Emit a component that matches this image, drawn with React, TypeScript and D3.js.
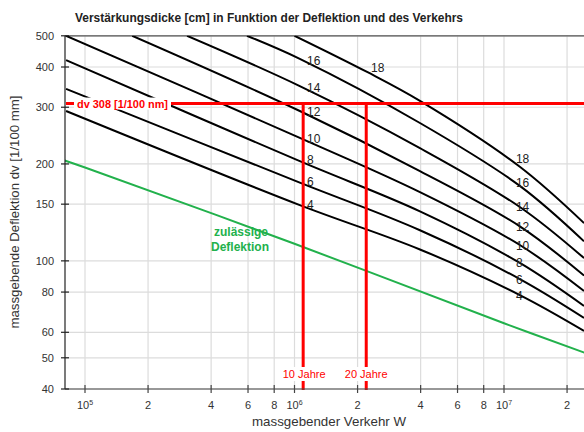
import React from "react";
import * as d3 from "d3";

// ---------- data ----------
const W_TICKS = [1e5, 2e5, 4e5, 6e5, 8e5, 1e6, 2e6, 4e6, 6e6, 8e6, 1e7, 2e7];
const W_TICK_BASE = ["10", "2", "4", "6", "8", "10", "2", "4", "6", "8", "10", "2"];
const W_TICK_EXP = ["5", "", "", "", "", "6", "", "", "", "", "7", ""];
const DV_TICKS = [40, 50, 60, 80, 100, 150, 200, 300, 400, 500];

const THICKNESS = [4, 6, 8, 10, 12, 14, 16, 18];
const LINE_4 = [[8.12e4, 292], [1.06e6, 149], [3.97e6, 108.5], [1.19e7, 78.3], [2.41e7, 60.6]];
const LINE_6 = [[8.12e4, 342], [1.06e6, 175], [3.97e6, 124.5], [1.19e7, 87.8], [2.41e7, 66.5]];
const LINE_8 = [[8.12e4, 420], [1.06e6, 204], [3.97e6, 142.5], [1.19e7, 98.5], [2.41e7, 72.4]];
const LINE_10 = [[8.12e4, 500], [1.06e6, 241], [3.97e6, 163.5], [1.19e7, 112], [2.41e7, 80.6]];
const LINE_12 = [[1.68e5, 500], [1.06e6, 292], [3.97e6, 190], [1.19e7, 128], [2.41e7, 90]];
const LINE_14 = [[3.07e5, 500], [1.06e6, 349], [3.97e6, 224], [1.19e7, 147], [2.41e7, 102]];
const LINE_16 = [[5.93e5, 500], [1.06e6, 424], [3.97e6, 268], [1.19e7, 171], [2.41e7, 115]];
const LINE_18 = [[1.0e6, 500], [2.22e6, 386], [3.97e6, 314], [1.19e7, 196], [2.41e7, 131]];
const LINES = [LINE_4, LINE_6, LINE_8, LINE_10, LINE_12, LINE_14, LINE_16, LINE_18];

const ALLOWED = [[8.0e4, 205], [1e5, 195], [1e6, 113], [1e7, 64], [2.5e7, 51.5]];

// labels on the curves
const LEFT_LABEL_W = 1.148e6;
const LEFT_LABELS = ["4", "6", "8", "10", "12", "14", "16"];
const LEFT_LABEL_DV = [150, 177, 207, 240, 290, 345, 420];
const TOP_LABEL = "18";
const TOP_LABEL_W = 2.32e6;
const TOP_LABEL_DV = 400;
const RIGHT_LABEL_W = 1.14e7;
const RIGHT_LABELS = ["4", "6", "8", "10", "12", "14", "16", "18"];
const RIGHT_LABEL_DV = [78.3, 87.8, 98.5, 112, 128, 148, 175.6, 208];

const DV_DESIGN = 308;
const W_10 = 1.1e6;
const W_20 = 2.2e6;

// ---------- layout ----------
const WIDTH = 584;
const HEIGHT = 432;
const LEFT = 65;
const TOP = 35.8;
const BOTTOM = 389;
const FONT = "'Liberation Sans', Arial, Helvetica, sans-serif";

export default function App() {
  const x = d3
    .scaleLog()
    .domain([8e4, 2.5e7])
    .range([85 + 209.5 * Math.log10(0.8), 85 + 209.5 * Math.log10(250)]);
  const y = d3.scaleLog().domain([40, 500]).range([BOTTOM, TOP]);
  const right = x.range()[1];

  const line = d3
    .line<number[]>()
    .x((d) => x(d[0]))
    .y((d) => y(d[1]))
    .curve(d3.curveCatmullRom.alpha(0.5));

  const xd = x(W_10);
  const xt = x(W_20);
  const yd = y(DV_DESIGN);

  return (
    <svg
      width={WIDTH}
      height={HEIGHT}
      style={{ position: "absolute", left: 0, top: 0, background: "#fff" }}
      fontFamily={FONT}
    >
      <defs>
        <clipPath id="plot">
          <rect x={LEFT} y={TOP} width={right - LEFT} height={BOTTOM - TOP} />
        </clipPath>
      </defs>
      <rect x={0} y={0} width={WIDTH} height={HEIGHT} fill="#fff" />

      {/* grid */}
      {W_TICKS.map((t, i) => (
        <line key={"gx" + i} x1={x(t)} x2={x(t)} y1={TOP} y2={BOTTOM} stroke="#dcdcdc" strokeWidth={1.2} />
      ))}
      {DV_TICKS.map((t, i) => (
        <line key={"gy" + i} x1={LEFT} x2={right} y1={y(t)} y2={y(t)} stroke="#dcdcdc" strokeWidth={1.2} />
      ))}

      {/* top frame */}
      <line x1={LEFT} x2={right} y1={TOP} y2={TOP} stroke="#555" strokeWidth={1.2} />

      <g clipPath="url(#plot)">
        {/* allowed deflection */}
        <path d={line(ALLOWED) || ""} fill="none" stroke="#22b14c" strokeWidth={2} />
        {/* thickness curves */}
        {LINES.map((pts, i) => (
          <path key={"l" + THICKNESS[i]} d={line(pts) || ""} fill="none" stroke="#000" strokeWidth={2} />
        ))}
      </g>

      {/* red design lines */}
      <line x1={LEFT + 1} x2={right} y1={yd} y2={yd} stroke="#ff0000" strokeWidth={3} />
      <line x1={xd} x2={xd} y1={yd - 1.5} y2={BOTTOM + 1} stroke="#ff0000" strokeWidth={3} />
      <line x1={xt} x2={xt} y1={yd - 1.5} y2={BOTTOM + 1} stroke="#ff0000" strokeWidth={3} />

      {/* red labels */}
      <rect x={74} y={yd - 6} width={97} height={12} fill="#fff" />
      <text x={77} y={yd + 4} fontSize={11} fontWeight="bold" fill="#ff0000" textLength={91} lengthAdjust="spacingAndGlyphs">
        dv 308 [1/100 nm]
      </text>
      <rect x={xd - 21} y={367} width={44} height={14} fill="#fff" />
      <text x={xd + 1} y={378} fontSize={11} fill="#ff0000" textAnchor="middle">
        10 Jahre
      </text>
      <rect x={xt - 21} y={367} width={44} height={14} fill="#fff" />
      <text x={xt} y={378} fontSize={11} fill="#ff0000" textAnchor="middle">
        20 Jahre
      </text>

      {/* green label */}
      <text x={241} y={236} fontSize={12} fontWeight="bold" fill="#22b14c" textAnchor="middle">
        zulässige
      </text>
      <text x={240} y={250.5} fontSize={12} fontWeight="bold" fill="#22b14c" textAnchor="middle">
        Deflektion
      </text>

      {/* curve labels */}
      <g fontSize={12} fill="#222">
        {LEFT_LABELS.map((s, i) => (
          <text key={"ll" + s} x={x(LEFT_LABEL_W)} y={y(LEFT_LABEL_DV[i]) + 4.5}>
            {s}
          </text>
        ))}
        <text x={x(TOP_LABEL_W)} y={y(TOP_LABEL_DV) + 4.5}>
          {TOP_LABEL}
        </text>
        {RIGHT_LABELS.map((s, i) => (
          <text key={"rl" + s} x={x(RIGHT_LABEL_W)} y={y(RIGHT_LABEL_DV[i]) + 4.5}>
            {s}
          </text>
        ))}
      </g>

      {/* axes */}
      <line x1={LEFT} x2={LEFT} y1={TOP} y2={BOTTOM} stroke="#222" strokeWidth={1.2} />
      <line x1={LEFT} x2={right} y1={BOTTOM} y2={BOTTOM} stroke="#444" strokeWidth={1.2} />
      {DV_TICKS.map((t, i) => (
        <g key={"ty" + i}>
          <line x1={LEFT - 4} x2={LEFT + 4} y1={y(t)} y2={y(t)} stroke="#222" strokeWidth={1.2} />
          <text x={54} y={y(t) + 4} fontSize={11} fill="#333" textAnchor="end">
            {t}
          </text>
        </g>
      ))}
      {W_TICKS.map((t, i) => (
        <g key={"tx" + i}>
          <line x1={x(t)} x2={x(t)} y1={BOTTOM - 4} y2={BOTTOM + 4} stroke="#444" strokeWidth={1.2} />
          <text x={x(t)} y={409} fontSize={11} fill="#333" textAnchor="middle">
            {W_TICK_BASE[i]}
            {W_TICK_EXP[i] ? (
              <tspan dy={-4} fontSize={7}>
                {W_TICK_EXP[i]}
              </tspan>
            ) : null}
          </text>
        </g>
      ))}

      {/* titles */}
      <text x={269} y={22} fontSize={12.5} fontWeight="bold" fill="#222" textAnchor="middle" textLength={388} lengthAdjust="spacingAndGlyphs">
        Verstärkungsdicke [cm] in Funktion der Deflektion und des Verkehrs
      </text>
      <text x={329} y={426} fontSize={13} fill="#333" textAnchor="middle" textLength={154} lengthAdjust="spacingAndGlyphs">
        massgebender Verkehr W
      </text>
      <text
        transform="translate(19,212) rotate(-90)"
        fontSize={12.5}
        fill="#333"
        textAnchor="middle"
        textLength={233}
        lengthAdjust="spacingAndGlyphs"
      >
        massgebende Deflektion dv [1/100 mm]
      </text>
    </svg>
  );
}
